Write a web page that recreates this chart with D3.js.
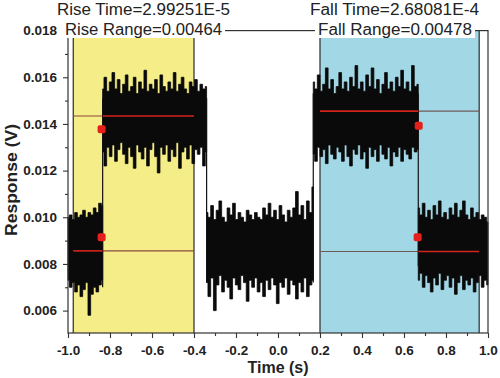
<!DOCTYPE html>
<html lang="en">
<head>
<meta charset="UTF-8">
<title>Rise / Fall time</title>
<script src="https://cdn.jsdelivr.net/npm/d3@7/dist/d3.min.js"></script>
<style>
  body { margin: 0; background: #fff; }
  svg { display: block; font-family: "Liberation Sans", Arial, sans-serif; }
</style>
</head>
<body>
<div id="chart"></div>
<script>
// axis ticks
const xTicks = [-1.0, -0.8, -0.6, -0.4, -0.2, 0.0, 0.2, 0.4, 0.6, 0.8, 1.0];
const xMinor = [-0.9, -0.7, -0.5, -0.3, -0.1, 0.1, 0.3, 0.5, 0.7, 0.9];
const yTicks = [0.006, 0.008, 0.010, 0.012, 0.014, 0.016, 0.018];
const yMinor = [0.007, 0.009, 0.011, 0.013, 0.015, 0.017];

// trace: time span of each level (s)
const segTimes = [[-1.0, -0.835], [-0.835, -0.34], [-0.34, 0.168], [0.168, 0.668], [0.668, 1.0]];

// noise envelope (V)
const upper1 = [0.0100, 0.0101, 0.0099, 0.0102, 0.0100, 0.0101, 0.0103, 0.0100, 0.0102, 0.0101, 0.0104, 0.0102, 0.0106, 0.0105];
const lower1 = [0.0073, 0.0070, 0.0072, 0.0068, 0.0071, 0.0066, 0.0069, 0.0072, 0.0058, 0.0067, 0.0070, 0.0068, 0.0071, 0.0073];

const upper2 = [0.0155, 0.0160, 0.0154, 0.0158, 0.0162, 0.0155, 0.0159, 0.0153, 0.0157, 0.0161,
                0.0154, 0.0156, 0.0160, 0.0153, 0.0158, 0.0155, 0.0163, 0.0154, 0.0157, 0.0155,
                0.0159, 0.0153, 0.0161, 0.0156, 0.0154, 0.0158, 0.0155, 0.0162, 0.0154, 0.0157,
                0.0160, 0.0155, 0.0153, 0.0158, 0.0156, 0.0159, 0.0154, 0.0157, 0.0155, 0.0156];
const lower2 = [0.0128, 0.0122, 0.0130, 0.0126, 0.0131, 0.0124, 0.0129, 0.0132, 0.0127, 0.0123,
                0.0130, 0.0126, 0.0121, 0.0131, 0.0128, 0.0125, 0.0130, 0.0122, 0.0129, 0.0132,
                0.0126, 0.0119, 0.0130, 0.0127, 0.0131, 0.0124, 0.0129, 0.0126, 0.0132, 0.0121,
                0.0128, 0.0130, 0.0125, 0.0131, 0.0123, 0.0129, 0.0127, 0.0130, 0.0122, 0.0128];

const upper3 = [0.0102, 0.0100, 0.0105, 0.0099, 0.0103, 0.0107, 0.0100, 0.0098, 0.0104, 0.0101,
                0.0106, 0.0099, 0.0102, 0.0100, 0.0098, 0.0103, 0.0101, 0.0099, 0.0102, 0.0100,
                0.0099, 0.0104, 0.0101, 0.0106, 0.0100, 0.0103, 0.0099, 0.0105, 0.0101, 0.0098,
                0.0103, 0.0100, 0.0104, 0.0111, 0.0101, 0.0105, 0.0099, 0.0107, 0.0102, 0.0113];
const lower3 = [0.0072, 0.0066, 0.0074, 0.0060, 0.0071, 0.0075, 0.0068, 0.0073, 0.0070, 0.0065,
                0.0074, 0.0071, 0.0069, 0.0075, 0.0072, 0.0064, 0.0073, 0.0070, 0.0074, 0.0068,
                0.0072, 0.0066, 0.0073, 0.0069, 0.0074, 0.0071, 0.0063, 0.0072, 0.0070, 0.0074,
                0.0067, 0.0073, 0.0071, 0.0065, 0.0072, 0.0068, 0.0074, 0.0066, 0.0071, 0.0073];

const upper4 = [0.0158, 0.0155, 0.0161, 0.0154, 0.0157, 0.0164, 0.0155, 0.0159, 0.0153, 0.0156,
                0.0162, 0.0155, 0.0158, 0.0154, 0.0160, 0.0156, 0.0165, 0.0155, 0.0158, 0.0154,
                0.0161, 0.0156, 0.0164, 0.0155, 0.0159, 0.0153, 0.0157, 0.0162, 0.0155, 0.0158,
                0.0154, 0.0160, 0.0156, 0.0163, 0.0155, 0.0158, 0.0154, 0.0165, 0.0156, 0.0157];
const lower4 = [0.0127, 0.0124, 0.0130, 0.0126, 0.0129, 0.0123, 0.0131, 0.0127, 0.0125, 0.0130,
                0.0128, 0.0124, 0.0131, 0.0126, 0.0122, 0.0129, 0.0127, 0.0131, 0.0125, 0.0128,
                0.0121, 0.0130, 0.0126, 0.0129, 0.0124, 0.0131, 0.0127, 0.0125, 0.0130, 0.0122,
                0.0128, 0.0126, 0.0130, 0.0124, 0.0129, 0.0127, 0.0125, 0.0130, 0.0128, 0.0129];

const upper5 = [0.0104, 0.0101, 0.0106, 0.0100, 0.0103, 0.0099, 0.0105, 0.0101, 0.0107, 0.0100,
                0.0102, 0.0099, 0.0104, 0.0101, 0.0106, 0.0100, 0.0103, 0.0107, 0.0101, 0.0099,
                0.0104, 0.0100, 0.0102, 0.0099, 0.0101, 0.0100, 0.0098];
const lower5 = [0.0073, 0.0076, 0.0070, 0.0075, 0.0072, 0.0068, 0.0074, 0.0071, 0.0076, 0.0069,
                0.0073, 0.0075, 0.0070, 0.0074, 0.0067, 0.0072, 0.0075, 0.0069, 0.0073, 0.0071,
                0.0074, 0.0068, 0.0072, 0.0075, 0.0070, 0.0073, 0.0071];

const uppers = [upper1, upper2, upper3, upper4, upper5];
const lowers = [lower1, lower2, lower3, lower4, lower5];

// shaded windows and fitted levels
const riseBand = [-0.975, -0.4];
const fallBand = [0.2, 0.958];
const riseLevels = [0.00856, 0.01434];
const fallLevels = [0.00853, 0.01455];
const riseEdge = -0.835;
const fallEdge = 0.668;
const markers = [[-0.840, 0.01377], [-0.840, 0.00914], [0.670, 0.01392], [0.665, 0.00914]];

const riseTimeLabel = "Rise Time=2.99251E-5";
const riseRangeLabel = "Rise Range=0.00464";
const fallTimeLabel = "Fall Time=2.68081E-4";
const fallRangeLabel = "Fall Range=0.00478";

const width = 500, height = 378;
const margin = {top: 30.6, right: 12, bottom: 45, left: 68};

const svg = d3.select("#chart").append("svg")
    .attr("width", width).attr("height", height);

const x = d3.scaleLinear().domain([-1, 1]).range([margin.left, width - margin.right]);
const y = d3.scaleLinear().domain([0.00504, 0.018]).range([height - margin.bottom, margin.top]);

const plotTop = y.range()[1], plotBottom = y.range()[0];

// shaded windows
const bands = [{r: riseBand, c: "#f5ed88"}, {r: fallBand, c: "#a2d8e5"}];
svg.append("g").selectAll("rect").data(bands).join("rect")
    .attr("x", d => x(d.r[0]))
    .attr("width", d => x(d.r[1]) - x(d.r[0]))
    .attr("y", plotTop).attr("height", plotBottom - plotTop)
    .attr("fill", d => d.c);

// window borders
const borders = [...riseBand, ...fallBand];
svg.append("g").selectAll("line").data(borders).join("line")
    .attr("x1", d => x(d)).attr("x2", d => x(d))
    .attr("y1", plotTop).attr("y2", plotBottom)
    .attr("stroke", "#2b2b2b").attr("stroke-width", 1.2);

// thin level lines across each window
const levelLines = [
  ...riseLevels.map(v => ({t0: riseBand[0], t1: riseBand[1], v, c: "#8a4a3c"})),
  ...fallLevels.map(v => ({t0: fallBand[0], t1: fallBand[1], v, c: "#6e5a58"}))
];
svg.append("g").selectAll("line").data(levelLines).join("line")
    .attr("x1", d => x(d.t0)).attr("x2", d => x(d.t1))
    .attr("y1", d => y(d.v)).attr("y2", d => y(d.v))
    .attr("stroke", d => d.c).attr("stroke-width", 1.1);

// noise trace
const area = d3.area()
    .curve(d3.curveStep)
    .x(d => x(d.t))
    .y0(d => y(d.lo))
    .y1(d => y(d.hi));

const segData = segTimes.map(([t0, t1], k) => {
  const n = uppers[k].length;
  return uppers[k].map((hi, i) => ({t: t0 + i * (t1 - t0) / (n - 1), hi, lo: lowers[k][i]}));
});

svg.append("g").selectAll("path").data(segData).join("path")
    .attr("d", area)
    .attr("fill", "#0a0a0a")
    .attr("stroke", "#0a0a0a")
    .attr("stroke-width", 0.8);

// level steps between segments
const steps = segTimes.slice(1).map(([t0], k) => ({t: t0, a: k}));
svg.append("g").selectAll("line").data(steps).join("line")
    .attr("x1", d => x(d.t)).attr("x2", d => x(d.t))
    .attr("y1", d => y(d3.min([...lowers[d.a], ...lowers[d.a + 1]]) + 0.0012))
    .attr("y2", d => y(d3.max([...uppers[d.a], ...uppers[d.a + 1]]) - 0.0012))
    .attr("stroke", "#111").attr("stroke-width", 1.2);

// red fitted levels over the trace
const redLines = [
  {t0: riseBand[0], t1: riseEdge, v: riseLevels[0]},
  {t0: riseEdge, t1: riseBand[1], v: riseLevels[1]},
  {t0: fallBand[0], t1: fallEdge, v: fallLevels[1]},
  {t0: fallEdge, t1: fallBand[1], v: fallLevels[0]}
];
svg.append("g").selectAll("line").data(redLines).join("line")
    .attr("x1", d => x(d.t0)).attr("x2", d => x(d.t1))
    .attr("y1", d => y(d.v)).attr("y2", d => y(d.v))
    .attr("stroke", "#d3241c").attr("stroke-width", 1.6);

svg.append("g").selectAll("rect").data(markers).join("rect")
    .attr("x", d => x(d[0]) - 4).attr("y", d => y(d[1]) - 4)
    .attr("width", 8).attr("height", 8).attr("rx", 2)
    .attr("fill", "#e3201b");

// frame
svg.append("rect")
    .attr("x", x(-1)).attr("y", plotTop)
    .attr("width", x(1) - x(-1)).attr("height", plotBottom - plotTop)
    .attr("fill", "none").attr("stroke", "#333").attr("stroke-width", 1.2);

// axes
const styleAxis = g => {
  g.select(".domain").remove();
  g.selectAll(".tick line").attr("stroke", "#333").attr("stroke-width", 1.1);
  g.selectAll(".tick text").attr("fill", "#222")
      .attr("font-size", "13.5px").attr("font-weight", "bold");
};

svg.append("g")
    .attr("transform", `translate(0,${plotBottom})`)
    .call(d3.axisBottom(x).tickValues(xTicks).tickSize(5).tickPadding(7)
      .tickFormat(d => d.toFixed(1)))
    .call(styleAxis);
svg.append("g")
    .attr("transform", `translate(0,${plotBottom})`)
    .call(d3.axisBottom(x).tickValues(xMinor).tickSize(3).tickFormat(""))
    .call(styleAxis);

svg.append("g")
    .attr("transform", `translate(${margin.left},0)`)
    .call(d3.axisLeft(y).tickValues(yTicks).tickSize(5).tickPadding(6)
      .tickFormat(d => d.toFixed(3)))
    .call(styleAxis);
svg.append("g")
    .attr("transform", `translate(${margin.left},0)`)
    .call(d3.axisLeft(y).tickValues(yMinor).tickSize(3).tickFormat(""))
    .call(styleAxis);

// axis titles
svg.append("text")
    .attr("x", x(0)).attr("y", 373)
    .attr("text-anchor", "middle")
    .attr("font-size", "16px").attr("font-weight", "bold").attr("fill", "#222")
    .text("Time (s)");

svg.append("text")
    .attr("transform", "translate(17,180) rotate(-90)")
    .attr("text-anchor", "middle")
    .attr("font-size", "16px").attr("font-weight", "bold").attr("fill", "#222")
    .attr("textLength", 112).attr("lengthAdjust", "spacingAndGlyphs")
    .text("Response (V)");

// annotation labels (range labels sit on the top frame line)
const notes = [
  {text: riseTimeLabel, x: 57, y: 15, w: 173, box: false},
  {text: riseRangeLabel, x: 65, y: 35, w: 157, box: true},
  {text: fallTimeLabel, x: 310, y: 15, w: 169, box: false},
  {text: fallRangeLabel, x: 318, y: 35, w: 154, box: true}
];
const noteG = svg.append("g");
noteG.selectAll("rect").data(notes.filter(d => d.box)).join("rect")
    .attr("x", d => d.x - 3).attr("y", 19)
    .attr("width", d => d.w + 6).attr("height", 19)
    .attr("fill", "#fff");
noteG.selectAll("text").data(notes).join("text")
    .attr("x", d => d.x).attr("y", d => d.y)
    .attr("font-size", "16px").attr("fill", "#222")
    .attr("textLength", d => d.w).attr("lengthAdjust", "spacingAndGlyphs")
    .text(d => d.text);
</script>
</body>
</html>
